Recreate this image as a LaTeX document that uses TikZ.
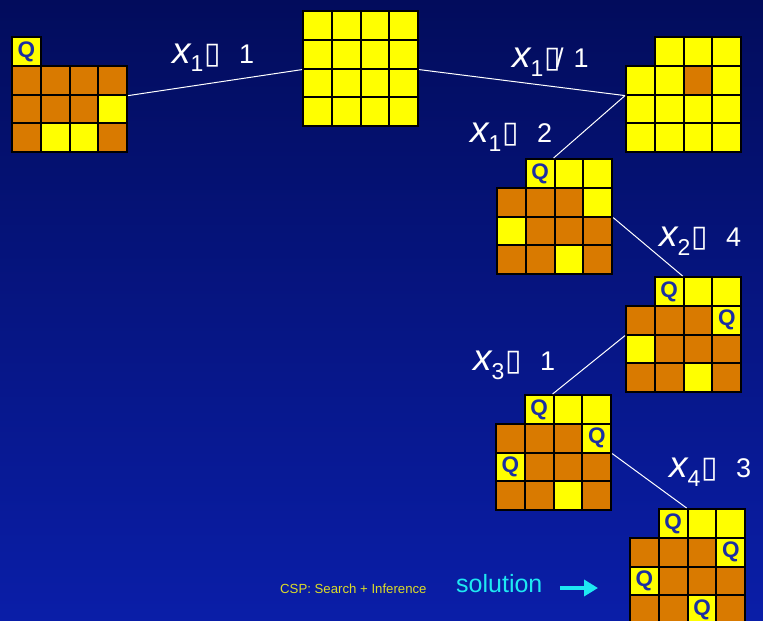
\documentclass[tikz,border=0pt]{standalone}
\usepackage{fontspec}
\setmainfont{Liberation Sans}
\newfontfamily\symfont{DejaVu Sans}
\usetikzlibrary{arrows.meta}
\definecolor{bgtop}{HTML}{020C5C}
\definecolor{bgbot}{HTML}{0A1EA8}
\definecolor{qyellow}{HTML}{FFFF00}
\definecolor{qorange}{HTML}{D97A00}
\definecolor{qblue}{HTML}{1B2EA3}
\definecolor{solcyan}{HTML}{1EE8F2}
\definecolor{cspyellow}{HTML}{DCDC28}
\tikzset{
  cell/.style={draw=black,line width=2pt,minimum size=28.8pt,inner sep=0pt,text=qblue,font=\fontsize{22.5}{22.5}\selectfont\bfseries},
  celly/.style={fill=qyellow},
  cello/.style={fill=qorange},
  cellq/.style={fill=qyellow},
  celln/.style={draw=none},
  branch/.style={draw=white,line width=1pt},
  asgn/.style={text=white,font=\fontsize{27}{30}\selectfont,inner sep=0pt,anchor=base west},
  solarr/.style={-{Triangle[length=14pt,width=16pt]},draw=solcyan,line width=4pt},
}
% one board: name, left, top, rows of cells (y yellow, o orange, q queen, n empty)
\newcommand{\board}[4]{%
  \foreach \cells [count=\r] in {#4} {
    \foreach \t [count=\k] in \cells {
      \node[cell,cell\t] (#1-\r-\k) at (#2+\k*28.8-14.4,#3+\r*28.8-14.4) {\if q\t Q\fi};
    }
  }%
}
\newcommand{\asg}[3]{{\fontsize{37}{37}\selectfont\itshape x}\raisebox{-9pt}{\fontsize{23}{23}\selectfont #1}\kern1pt{\symfont\fontsize{30}{30}\selectfont ▯}#2\hspace{18pt}#3}
\begin{document}
\begin{tikzpicture}[x=1pt,y=-1pt]
  \clip (0,0) rectangle (763,621);
  \shade[top color=bgtop,bottom color=bgbot] (0,0) rectangle (763,621);

  % boards
  \board{x1is1}{12}{37}{{q,n,n,n},{o,o,o,o},{o,o,o,y},{o,y,y,o}}
  \board{root}{303}{11}{{y,y,y,y},{y,y,y,y},{y,y,y,y},{y,y,y,y}}
  \board{x1not1}{626}{37}{{n,y,y,y},{y,y,o,y},{y,y,y,y},{y,y,y,y}}
  \board{x1is2}{497}{159}{{n,q,y,y},{o,o,o,y},{y,o,o,o},{o,o,y,o}}
  \board{x2is4}{626}{277}{{n,q,y,y},{o,o,o,q},{y,o,o,o},{o,o,y,o}}
  \board{x3is1}{496}{395}{{n,q,y,y},{o,o,o,q},{q,o,o,o},{o,o,y,o}}
  \board{x4is3}{630}{509}{{n,q,y,y},{o,o,o,q},{q,o,o,o},{o,o,q,o}}

  % branches
  \draw[branch] (x1is1-2-4.south east) -- (root-2-1.south west);
  \draw[branch] (root-2-4.south east) -- (x1not1-2-1.south west);
  \draw[branch] (x1not1-2-1.south west) -- (x1is2-1-3.north west);
  \draw[branch] (x1is2-2-4.south east) -- (x2is4-1-3.north west);
  \draw[branch] (x2is4-2-1.south west) -- (x3is1-1-3.north west);
  \draw[branch] (x3is1-2-4.south east) -- (x4is3-1-3.north west);

  % labels
  \node[asgn] (lbl1) at (172,63) {\asg{1}{}{1}};
  \node[asgn] (lbl2) at (512,67) {\asg{1}{\kern-5pt/\kern-8pt}{1}};
  \node[asgn] (lbl3) at (470,142) {\asg{1}{}{2}};
  \node[asgn] (lbl4) at (659,246) {\asg{2}{}{4}};
  \node[asgn] (lbl5) at (473,370) {\asg{3}{}{1}};
  \node[asgn] (lbl6) at (669,477) {\asg{4}{}{3}};

  \node[text=cspyellow,font=\fontsize{13.2}{15}\selectfont,inner sep=0pt,anchor=base west] (csp) at (280,593) {CSP: Search + Inference};
  \node[text=solcyan,font=\fontsize{25}{28}\selectfont,inner sep=0pt,anchor=base west] (sol) at (456,592) {solution};
  \coordinate (arrstart) at (560,588);
  \coordinate (arrend) at (598,588);
  \draw[solarr] (arrstart) -- (arrend);
\end{tikzpicture}
\end{document}
